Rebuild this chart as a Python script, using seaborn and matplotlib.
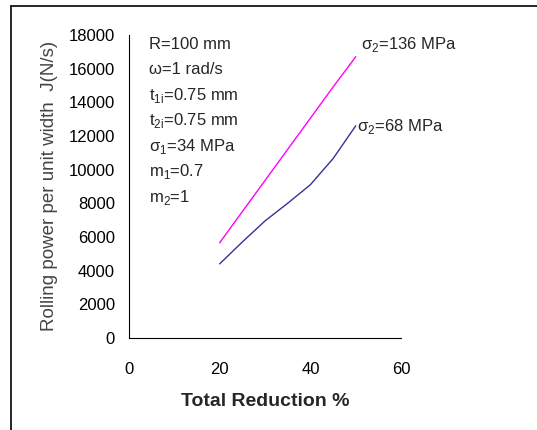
import matplotlib
matplotlib.use("Agg")
import matplotlib.pyplot as plt
import seaborn as sns
import pandas as pd
from matplotlib.lines import Line2D

# ---- data ----
reduction = [20, 25, 30, 35, 40, 45, 50]
power_136 = [5650, 7500, 9350, 11200, 13050, 14900, 16700]
power_68 = [4400, 5700, 6950, 8000, 9100, 10650, 12600]
param_lines = [
    "R=100 mm",
    "ω=1 rad/s",
    "t$_\\mathregular{1i}$=0.75 mm",
    "t$_\\mathregular{2i}$=0.75 mm",
    "σ$_\\mathregular{1}$=34 MPa",
    "m$_\\mathregular{1}$=0.7",
    "m$_\\mathregular{2}$=1",
]

sns.set_theme(style="white")
plt.rcParams["font.family"] = ["Liberation Sans", "DejaVu Sans"]
plt.rcParams["mathtext.fontset"] = "custom"
plt.rcParams["mathtext.rm"] = "Liberation Sans"

n = len(reduction)
df = pd.DataFrame({"red": reduction * 2,
                   "power": power_136 + power_68,
                   "case": ["136"] * n + ["68"] * n})

fig = plt.figure(figsize=(5.37, 4.3), dpi=100)
ax = fig.add_axes([0.240, 0.214, 0.507, 0.705])

sns.lineplot(data=df, x="red", y="power", hue="case",
             palette={"136": "#FF00FF", "68": "#333399"},
             linewidth=1.0, legend=False, ax=ax)

ax.set_xlim(0, 60)
ax.set_ylim(0, 18000)
ax.set_xticks([0, 20, 40, 60])
ax.set_yticks(range(0, 18001, 2000))
ax.tick_params(axis="y", direction="out", length=5, width=0.8, labelsize=12, pad=5, colors="black")
ax.tick_params(axis="x", direction="in", length=5, width=0.8, labelsize=12, pad=17, colors="black")
for side in ["top", "right"]:
    ax.spines[side].set_visible(False)
for side in ["left", "bottom"]:
    ax.spines[side].set_color("black")
    ax.spines[side].set_linewidth(0.8)

ax.set_xlabel("Total Reduction %", fontsize=14, fontweight="bold", labelpad=12)
ax.set_ylabel("Rolling power per unit width  J(N/s)", fontsize=13.5, color="#444444", labelpad=8)

# curve labels
ax.text(reduction[-1] + 1.2, power_136[-1] + 700, "σ$_\\mathregular{2}$=136 MPa", fontsize=12, va="center")
ax.text(reduction[-1] + 0.3, power_68[-1] - 50, "σ$_\\mathregular{2}$=68 MPa", fontsize=12, va="center")

# parameter block
for i, s in enumerate(param_lines):
    ax.text(0.075, 0.968 - i * 0.084, s, transform=ax.transAxes, fontsize=12, va="center")

# outer frame (partial, as cropped in the reference)
fig.add_artist(Line2D([11 / 537, 11 / 537], [0, 1 - 6 / 430], color="black", lw=1.2, transform=fig.transFigure))
fig.add_artist(Line2D([11 / 537, 1], [1 - 6 / 430, 1 - 6 / 430], color="black", lw=1.2, transform=fig.transFigure))

fig.savefig("out.png", dpi=100)
